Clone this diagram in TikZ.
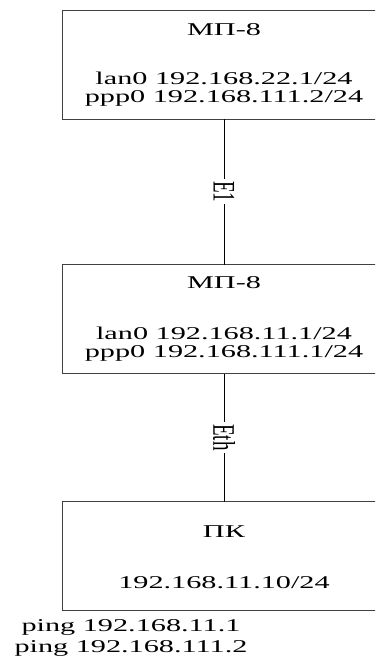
\documentclass[tikz,border=0pt]{standalone}
\usepackage{fontspec}
\setmainfont{Liberation Serif}
\begin{document}
\begin{tikzpicture}[x=1pt,y=-1pt,
  box/.style={draw=black!75,line width=1pt,minimum width=324pt,minimum height=109pt,inner sep=0pt,outer sep=0pt},
  txt/.style={font=\fontsize{18}{18}\selectfont,xscale=1.68,transform shape,anchor=base,inner sep=0pt,align=center},
  pingtxt/.style={txt,font=\fontsize{18}{21}\selectfont},
  linklabel/.style={font=\fontsize{19}{19}\selectfont,fill=white,inner sep=2pt,xscale=1.65,rotate=-90,transform shape},
  link/.style={line width=1pt,draw=black}]
\useasboundingbox (0,0) rectangle (375,664);
\begin{scope}
\clip (0,0) rectangle (375,664);
\node[box] (b1) at (224,64.5) {};
\node[box] (b2) at (224,319) {};
\node[box] (b3) at (224,556) {};
\draw[link] (b1.south) -- (b2.north) node[midway,linklabel] (l1) {E1};
\draw[link] (b2.south) -- (b3.north) node[midway,linklabel] (l2) {Eth};
\end{scope}
\node[txt] (t11) at (224,35) {МП-8};
\node[txt] (t12) at (224,102.5) {lan0 192.168.22.1/24\\ppp0 192.168.111.2/24};
\node[txt] (t21) at (224,288) {МП-8};
\node[txt] (t22) at (224,357.5) {lan0 192.168.11.1/24\\ppp0 192.168.111.1/24};
\node[txt] (t31) at (224,537) {ПК};
\node[txt] (t32) at (224,588) {192.168.11.10/24};
\node[pingtxt] (p) at (131,652) {ping 192.168.11.1\\ping 192.168.111.2};
\end{tikzpicture}
\end{document}
